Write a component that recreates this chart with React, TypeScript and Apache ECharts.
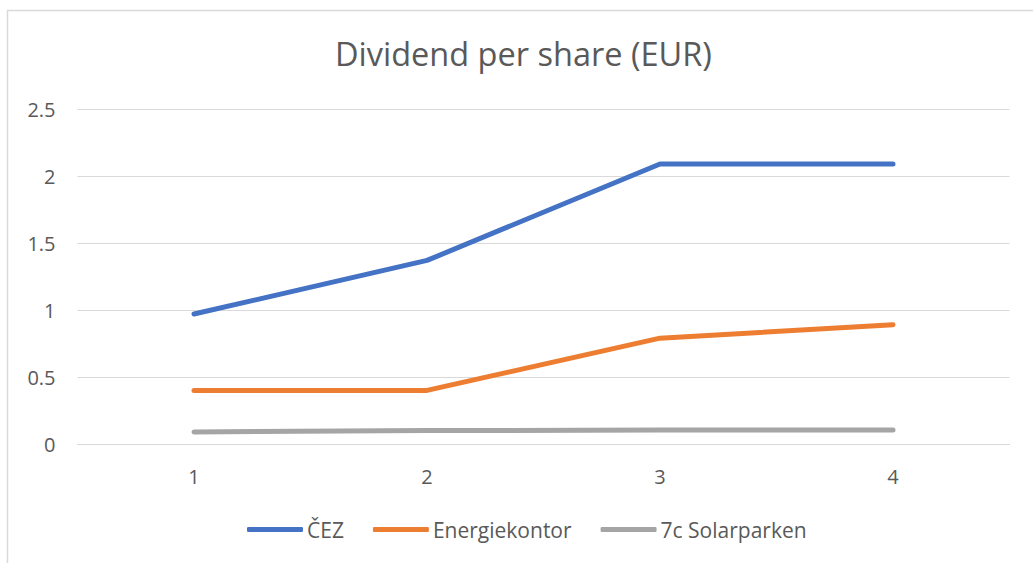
import React, { useEffect, useRef } from "react";
import * as echarts from "echarts";

const categories = ["1", "2", "3", "4"];
const cez = [0.97, 1.37, 2.09, 2.09];
const energiekontor = [0.4, 0.4, 0.79, 0.89];
const solarparken = [0.09, 0.1, 0.104, 0.104];

const FONT = "'Open Sans', 'Noto Sans', sans-serif";
const TEXT = "#595959";

export default function App() {
  const ref = useRef<HTMLDivElement>(null);
  useEffect(() => {
    if (!ref.current) return;
    const chart = echarts.init(ref.current, undefined, { renderer: "svg" });
    const mk = (name: string, data: number[], color: string) => ({
      name,
      type: "line",
      data,
      symbol: "none",
      lineStyle: { color, width: 5, cap: "round", join: "round" },
      itemStyle: { color },
    });
    chart.setOption({
      animation: false,
      backgroundColor: "#ffffff",
      title: {
        text: "Dividend per share (EUR)",
        left: 330,
        top: 32,
        textStyle: { fontFamily: FONT, fontSize: 32.5, fontWeight: "normal", color: TEXT },
      },
      grid: { left: 77.5, right: 23.5, top: 109, bottom: 119, containLabel: false },
      xAxis: {
        type: "category",
        data: categories,
        boundaryGap: true,
        axisLine: { lineStyle: { color: "#D9D9D9", width: 1 } },
        axisTick: { show: false },
        axisLabel: { color: TEXT, fontFamily: FONT, fontSize: 20, margin: 22 },
      },
      yAxis: {
        type: "value",
        min: 0,
        max: 2.5,
        interval: 0.5,
        axisLine: { show: false },
        axisTick: { show: false },
        splitLine: { lineStyle: { color: "#D9D9D9", width: 1 } },
        axisLabel: { color: TEXT, fontFamily: FONT, fontSize: 20, margin: 22 },
      },
      legend: {
        top: 514,
        left: 242,
        icon: "roundRect",
        itemWidth: 56,
        itemHeight: 5,
        itemGap: 29,
        textStyle: { color: TEXT, fontFamily: FONT, fontSize: 21, padding: [0, 0, 0, -1] },
        data: ["ČEZ", "Energiekontor", "7c Solarparken"],
      },
      graphic: [
        { type: "line", shape: { x1: 7.5, y1: 10, x2: 7.5, y2: 563 }, style: { stroke: "#D9D9D9", lineWidth: 1.5 } },
        { type: "line", shape: { x1: 7, y1: 10.5, x2: 1033, y2: 10.5 }, style: { stroke: "#D9D9D9", lineWidth: 1.5 } },
      ],
      series: [
        mk("ČEZ", cez, "#4472C4"),
        mk("Energiekontor", energiekontor, "#ED7D31"),
        mk("7c Solarparken", solarparken, "#A5A5A5"),
      ],
    });
    return () => chart.dispose();
  }, []);
  return (
    <div
      ref={ref}
      style={{ position: "fixed", left: 0, top: 0, width: 1033, height: 563 }}
    />
  );
}
